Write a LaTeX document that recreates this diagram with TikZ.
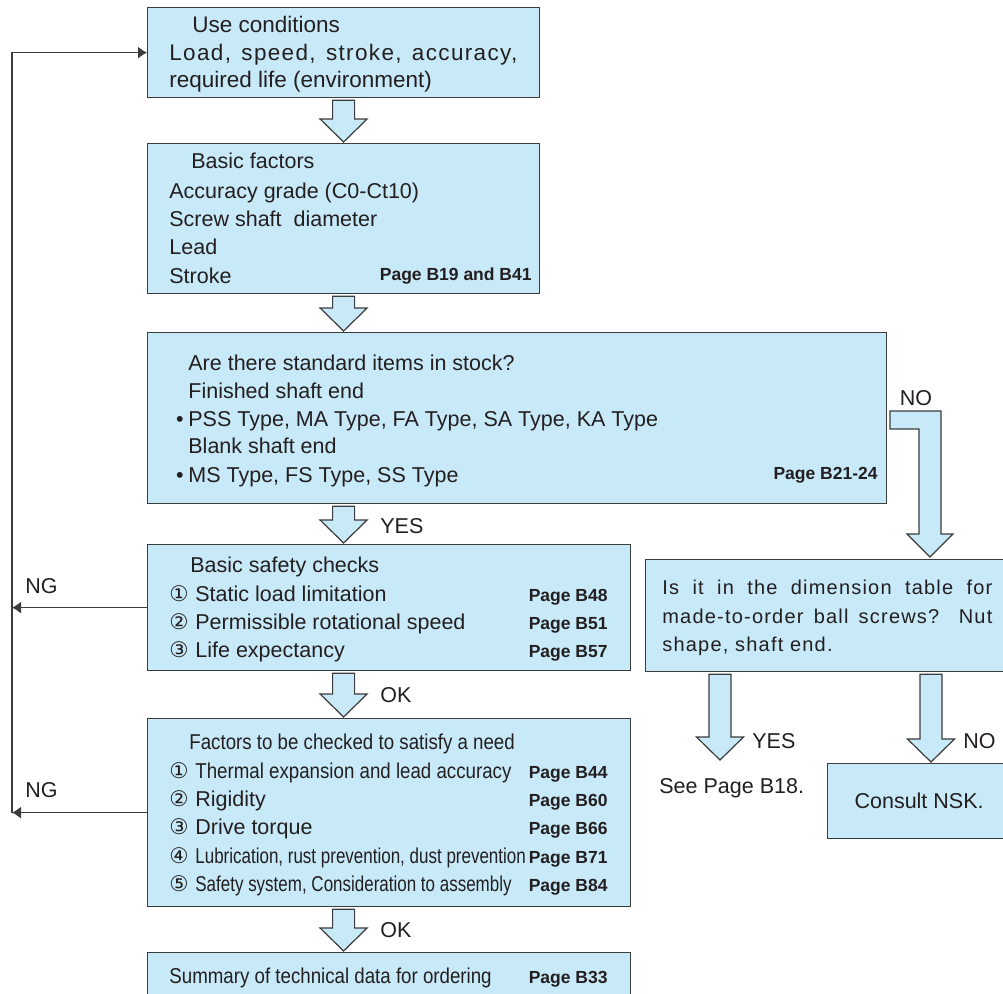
\documentclass[tikz,border=0pt]{standalone}
\usepackage{fontspec}
\setmainfont{Liberation Sans}
\newfontfamily\condfont[FakeStretch=0.87]{Liberation Sans}
\newfontfamily\narrowfont[FakeStretch=0.79]{Liberation Sans}
\newfontfamily\spacedfont[LetterSpace=6]{Liberation Sans}
\newfontfamily\circfont{DejaVu Sans}
\usetikzlibrary{calc,arrows.meta}

\newcommand{\itemnum}[1]{\makebox[13pt][l]{\circfont #1}}
% hollow down arrow between two points
\newcommand{\blockdown}[2]{%
  \draw[blockarrow] let \p1=(#1), \p2=(#2) in
    (\x1-5.5pt,\y1-1pt) -- (\x1+5.5pt,\y1-1pt) -- (\x1+5.5pt,\y2+12pt)
    -- (\x1+11.75pt,\y2+12pt) -- (\x1,\y2+0.5pt) -- (\x1-11.75pt,\y2+12pt)
    -- (\x1-5.5pt,\y2+12pt) -- cycle;}

\begin{document}
\begin{tikzpicture}[x=0.5pt, y=-0.5pt, line join=miter,
  flowbox/.style={draw=boxline, fill=boxfill, line width=0.6pt, inner sep=0pt, anchor=north west},
  txt/.style={anchor=base west, inner sep=0pt, text=textdark, font=\fontsize{10.75}{13}\selectfont},
  pagelabel/.style={anchor=base east, inner sep=0pt, text=textdark, font=\fontsize{8.75}{10}\selectfont\bfseries},
  blockarrow/.style={draw=boxline, fill=boxfill, line width=0.6pt},
  flowline/.style={draw=boxline, line width=0.6pt, -{Latex[length=4.5pt,width=6pt]}}]
  \definecolor{boxfill}{RGB}{200,233,248}
  \definecolor{boxline}{RGB}{60,60,60}
  \definecolor{textdark}{RGB}{35,31,32}
  \useasboundingbox (0,0) rectangle (1003,993);
  \clip (0,0) rectangle (1003,993);

  % boxes
  \node[flowbox, minimum width=196pt, minimum height=45pt] (use) at (147,7) {};
  \node[flowbox, minimum width=196pt, minimum height=75pt] (basic) at (147,143) {};
  \node[flowbox, minimum width=369.5pt, minimum height=85.5pt] (stock) at (147,332) {};
  \node[flowbox, minimum width=241.5pt, minimum height=63pt] (safety) at (147,544) {};
  \node[flowbox, minimum width=241.5pt, minimum height=94pt] (factors) at (147,718) {};
  \node[flowbox, minimum width=241.5pt, minimum height=29pt] (summary) at (147,952) {};
  \node[flowbox, minimum width=182.5pt, minimum height=56pt] (dimtab) at (645,559) {};
  \node[flowbox, minimum width=91.5pt, minimum height=37.5pt, text=textdark,
    font=\fontsize{10.75}{13}\selectfont] (consult) at (827,763) {Consult NSK.};

  % down arrows
  \coordinate (yesfoot) at (720,761);
  \coordinate (nofoot) at (931,763);
  \blockdown{use.south}{basic.north}
  \blockdown{use.south |- basic.south}{use.south |- stock.north}
  \blockdown{use.south |- stock.south}{use.south |- safety.north}
  \blockdown{use.south |- safety.south}{use.south |- factors.north}
  \blockdown{use.south |- factors.south}{use.south |- summary.north}
  \blockdown{yesfoot |- dimtab.south}{yesfoot}
  \blockdown{nofoot |- dimtab.south}{nofoot}
  \draw[blockarrow] (890,411) -- (941,411) -- (941,534) -- (953,534) -- (930,557)
    -- (907,534) -- (919,534) -- (919,429) -- (890,429) -- cycle;

  % NG loop back
  \coordinate (back) at (12,0);
  \draw[flowline] (safety.west) -- (safety.west -| back);
  \draw[flowline] (factors.west) -- (factors.west -| back);
  \draw[flowline] (factors.west -| back) |- (use.west);

  % texts
  \node[txt, font=\fontsize{11.25}{13}\selectfont] (usetitle) at (192,32) {Use conditions};
  \node[txt, font=\fontsize{11.25}{13}\selectfont] (useline1) at (169,60)
    {\spacedfont\makebox[174pt][s]{Load, speed, stroke, accuracy,}};
  \node[txt, font=\fontsize{11.25}{13}\selectfont] (useline2) at (169,87) {required life (environment)};

  \node[txt] (basictitle) at (191,168) {Basic factors};
  \node[txt] (basicline1) at (169,198) {Accuracy grade (C0-Ct10)};
  \node[txt] (basicline2) at (169,226) {Screw shaft\ \ diameter};
  \node[txt] (basicline3) at (169,254) {Lead};
  \node[txt] (basicline4) at (169,283) {Stroke};
  \node[pagelabel] (basicpage) at (532,280) {Page B19 and B41};

  \node[txt] (stocktitle) at (188,370) {Are there standard items in stock?};
  \node[txt] (stockline1) at (188,398) {Finished shaft end};
  \node[txt, anchor=base east] (stockdot1) at (184,426) {\textbullet};
  \node[txt] (stockline2) at (188,426) {PSS Type, MA Type, FA Type, SA Type, KA Type};
  \node[txt] (stockline3) at (188,453) {Blank shaft end};
  \node[txt, anchor=base east] (stockdot2) at (184,482) {\textbullet};
  \node[txt] (stockline4) at (188,482) {MS Type, FS Type, SS Type};
  \node[pagelabel] (stockpage) at (878,479) {Page B21-24};

  \node[txt] (safetytitle) at (190,572) {Basic safety checks};
  \node[txt] (safetyline1) at (169,601) {\itemnum{①}Static load limitation};
  \node[txt] (safetyline2) at (169,629) {\itemnum{②}Permissible rotational speed};
  \node[txt] (safetyline3) at (169,657) {\itemnum{③}Life expectancy};
  \node[pagelabel] (safetypage1) at (608,601) {Page B48};
  \node[pagelabel] (safetypage2) at (608,629) {Page B51};
  \node[pagelabel] (safetypage3) at (608,657) {Page B57};

  \node[txt, font=\fontsize{10.75}{12}\selectfont\condfont] (factorstitle) at (189,749)
    {Factors to be checked to satisfy a need};
  \node[txt] (factorsline1) at (169,778) {\itemnum{①}\condfont Thermal expansion and lead accuracy};
  \node[txt] (factorsline2) at (169,806) {\itemnum{②}Rigidity};
  \node[txt] (factorsline3) at (169,834) {\itemnum{③}Drive torque};
  \node[txt] (factorsline4) at (169,863) {\itemnum{④}\narrowfont Lubrication, rust prevention, dust prevention};
  \node[txt] (factorsline5) at (169,891) {\itemnum{⑤}\narrowfont Safety system, Consideration to assembly};
  \node[pagelabel] (factorspage1) at (608,778) {Page B44};
  \node[pagelabel] (factorspage2) at (608,806) {Page B60};
  \node[pagelabel] (factorspage3) at (608,834) {Page B66};
  \node[pagelabel] (factorspage4) at (608,863) {Page B71};
  \node[pagelabel] (factorspage5) at (608,891) {Page B84};

  \node[txt] (summaryline) at (169,983) {\condfont Summary of technical data for ordering};
  \node[pagelabel] (summarypage) at (608,983) {Page B33};

  \node[txt, font=\fontsize{10}{12}\selectfont] (dimline1) at (662,594)
    {\spacedfont\makebox[165pt][s]{Is it in the dimension table for}};
  \node[txt, font=\fontsize{10}{12}\selectfont] (dimline2) at (662,623)
    {\spacedfont\makebox[165pt][s]{made-to-order ball screws? Nut}};
  \node[txt, font=\fontsize{10}{12}\selectfont] (dimline3) at (662,651)
    {\spacedfont shape, shaft end.};

  % branch labels
  \node[txt] (yes1) at (380,533) {YES};
  \node[txt] (ok1) at (380,702) {OK};
  \node[txt] (ok2) at (380,937) {OK};
  \node[txt] (ng1) at (25,593) {NG};
  \node[txt] (ng2) at (25,797) {NG};
  \node[txt, anchor=base] (no1) at (916,405) {NO};
  \node[txt] (yes2) at (752,748) {YES};
  \node[txt] (no2) at (963,748) {NO};
  \node[txt] (seepage) at (659,793) {See Page B18.};
\end{tikzpicture}
\end{document}
